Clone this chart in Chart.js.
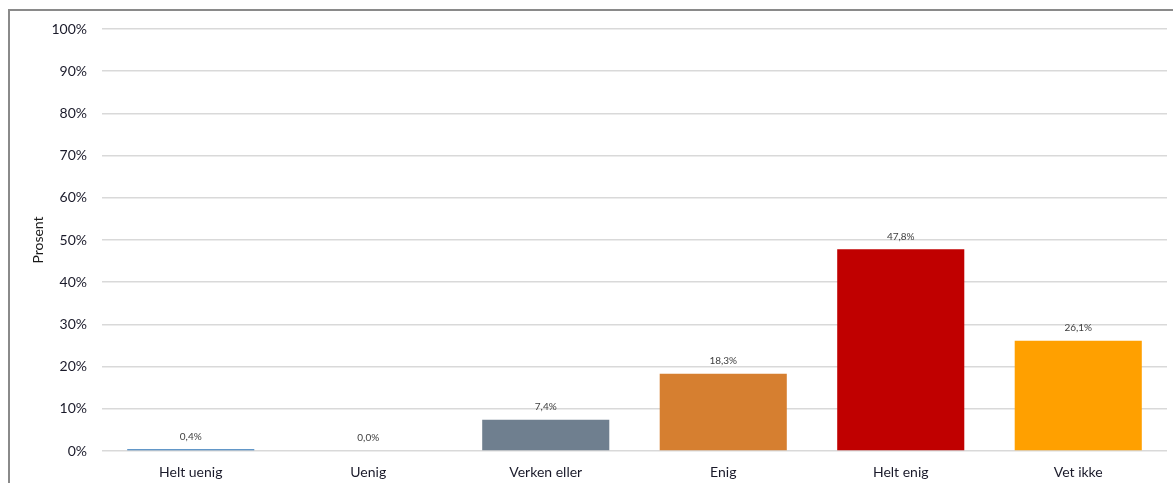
<!DOCTYPE html>
<html>
<head>
<meta charset="utf-8">
<script src="https://cdn.jsdelivr.net/npm/chart.js@4/dist/chart.umd.min.js"></script>
<style>
  html, body { margin: 0; padding: 0; background: #fff; overflow: hidden; }
  #wrap { position: relative; width: 1173px; height: 483px; }
  #frame { position: absolute; left: 8px; top: 9px; width: 1200px; height: 520px;
           border-left: 2px solid #8a8a8a; border-top: 2px solid #8a8a8a; box-sizing: border-box; }
  canvas { position: absolute; left: 0; top: 0; }
</style>
</head>
<body>
<div id="wrap">
  <div id="frame"></div>
  <canvas id="c" width="1173" height="483"></canvas>
</div>
<script>
// Answer categories and share of respondents (%)
const categories = ['Helt uenig', 'Uenig', 'Verken eller', 'Enig', 'Helt enig', 'Vet ikke'];
const shares = [0.4, 0.0, 7.4, 18.3, 47.8, 26.1];
const barColors = ['#2E75B6', '#A5A5A5', '#6F7F8F', '#D67F30', '#C00000', '#FFA000'];
const yTicks = [0, 10, 20, 30, 40, 50, 60, 70, 80, 90, 100];

const fmt = v => v.toFixed(1).replace('.', ',') + '%';
const FONT = 'Lato, "Liberation Sans", sans-serif';

// Value labels above each bar
const valueLabels = {
  id: 'valueLabels',
  afterDatasetsDraw(chart) {
    const ctx = chart.ctx;
    const meta = chart.getDatasetMeta(0);
    ctx.save();
    ctx.font = '10px ' + FONT;
    ctx.fillStyle = '#404040';
    ctx.textAlign = 'center';
    ctx.textBaseline = 'middle';
    meta.data.forEach((bar, i) => {
      ctx.fillText(fmt(shares[i]), bar.x, bar.y - 13);
    });
    ctx.restore();
  }
};

new Chart(document.getElementById('c'), {
  type: 'bar',
  data: {
    labels: categories,
    datasets: [{
      data: shares,
      backgroundColor: barColors,
      borderWidth: 0,
      categoryPercentage: 1,
      barPercentage: 0.716
    }]
  },
  options: {
    responsive: false,
    animation: false,
    devicePixelRatio: 1,
    layout: { padding: { top: 29, right: 6, left: 0, bottom: 0 } },
    plugins: { legend: { display: false }, tooltip: { enabled: false } },
    scales: {
      x: {
        grid: { display: false },
        border: { display: false },
        ticks: { color: '#1a1a2a', font: { family: FONT, size: 14 }, padding: 5 },
        afterFit(scale) { scale.height = 32; }
      },
      y: {
        min: 0, max: 100,
        afterBuildTicks(scale) { scale.ticks = yTicks.map(v => ({ value: v })); },
        grid: { color: '#d9d9d9', lineWidth: 1.5, drawTicks: false },
        border: { display: false },
        ticks: {
          color: '#1a1a2a',
          font: { family: FONT, size: 14 },
          padding: 15,
          callback: v => v + '%'
        },
        title: {
          display: true,
          text: 'Prosent',
          color: '#1a1a1a',
          font: { family: FONT, size: 14 },
          padding: { top: 30, bottom: 0 }
        },
        afterFit(scale) { scale.width = 102; }
      }
    }
  },
  plugins: [valueLabels]
});
</script>
</body>
</html>
